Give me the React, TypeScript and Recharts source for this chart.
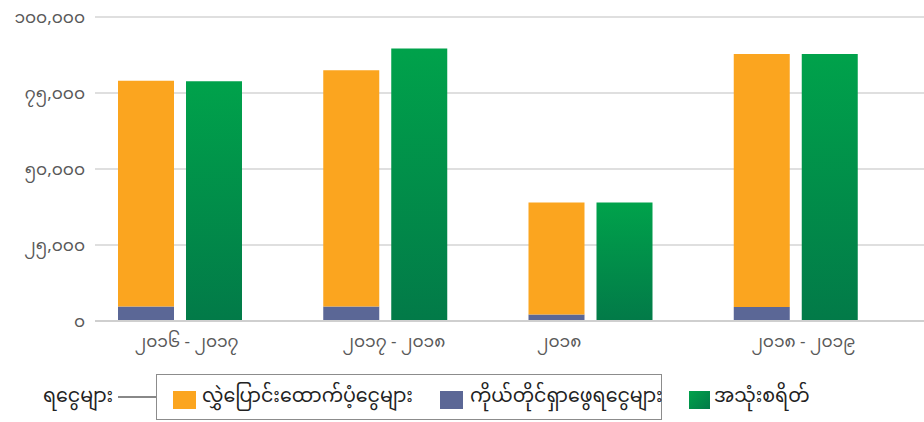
import { BarChart, Bar, XAxis, YAxis, CartesianGrid } from "recharts";

const periods = ["၂၀၁၆ - ၂၀၁၇", "၂၀၁၇ - ၂၀၁၈", "၂၀၁၈", "၂၀၁၈ - ၂၀၁၉"];
const selfEarned = [4800, 4800, 2100, 4600];
const transfers = [74200, 77700, 36900, 83200];
const spending = [78900, 89600, 39000, 87800];
const yTicks = [0, 25000, 50000, 75000, 100000];

const seriesNames = ["လွှဲပြောင်းထောက်ပံ့ငွေများ", "ကိုယ်တိုင်ရှာဖွေရငွေများ", "အသုံးစရိတ်"];
const legendTitle = "ရငွေများ";

const data = periods.map((p, i) => ({
  period: p,
  self: selfEarned[i],
  transfer: transfers[i],
  spend: spending[i],
}));

const MY_DIGITS = "၀၁၂၃၄၅၆၇၈၉";
const toMyanmar = (n: number) =>
  n.toLocaleString("en-US").replace(/[0-9]/g, (d) => MY_DIGITS[Number(d)]);

const FONT = "'Noto Sans Myanmar', 'Padauk', 'Myanmar Text', 'Noto Sans', sans-serif";
const labelNudge = [7, 9, -31, 8];

const XTick = (props: any) => {
  const { x, y, payload, index } = props;
  return (
    <text x={x + (labelNudge[index] || 0)} y={y} dy={18} textAnchor="middle" fill="#595959" fontSize={17} fontFamily={FONT}>
      {payload.value}
    </text>
  );
};

const labelStyle = { position: "absolute" as const, top: 11, lineHeight: "26px", whiteSpace: "nowrap" as const };

export default function App() {
  return (
    <div style={{ position: "relative", width: 924, height: 422, background: "#fff", fontFamily: FONT }}>
      <style>{`body{margin:0}`}</style>
      <BarChart
        width={924}
        height={372}
        data={data}
        margin={{ top: 17, right: 0, left: 0, bottom: 21 }}
        barGap={12}
        barSize={56}
      >
        <defs>
          <linearGradient id="greenGrad" x1="0" y1="0" x2="0" y2="1">
            <stop offset="0%" stopColor="#00a24b" />
            <stop offset="100%" stopColor="#027a48" />
          </linearGradient>
        </defs>
        <CartesianGrid vertical={false} stroke="#d4d4d4" strokeWidth={1.5} />
        <XAxis
          dataKey="period"
          height={30}
          tickLine={false}
          axisLine={{ stroke: "#cfcfcf", strokeWidth: 2 }}
          padding={{ left: -18, right: 26 }}
          tick={<XTick />}
          interval={0}
        />
        <YAxis
          width={95}
          domain={[0, 100000]}
          ticks={yTicks}
          tickLine={false}
          axisLine={false}
          tickMargin={4}
          tickFormatter={toMyanmar}
          tick={{ fill: "#595959", fontSize: 17, fontFamily: FONT }}
        />
        <Bar dataKey="self" stackId="a" fill="#5b6796" isAnimationActive={false} />
        <Bar dataKey="transfer" stackId="a" fill="#fba51f" isAnimationActive={false} />
        <Bar dataKey="spend" fill="url(#greenGrad)" isAnimationActive={false} />
      </BarChart>

      <div style={{ position: "absolute", top: 374, left: 0, width: 924, height: 47, fontSize: 19, color: "#222" }}>
        <span style={{ ...labelStyle, left: 43 }}>{legendTitle}</span>
        <div style={{ position: "absolute", left: 118, top: 22, width: 38, height: 2, background: "#888" }} />
        <div
          style={{
            position: "absolute",
            left: 156,
            top: 0,
            width: 506,
            height: 46,
            border: "1.5px solid #8c8c8c",
            boxSizing: "border-box",
          }}
        />
        <div style={{ position: "absolute", left: 173, top: 17, width: 23, height: 18, background: "#fba51f" }} />
        <span style={{ ...labelStyle, left: 202 }}>{seriesNames[0]}</span>
        <div style={{ position: "absolute", left: 440, top: 17, width: 23, height: 18, background: "#5b6796" }} />
        <span style={{ ...labelStyle, left: 470 }}>{seriesNames[1]}</span>
        <div style={{ position: "absolute", left: 689, top: 17, width: 21, height: 18, background: "linear-gradient(135deg, #00a24b, #027a48)" }} />
        <span style={{ ...labelStyle, left: 714 }}>{seriesNames[2]}</span>
      </div>
    </div>
  );
}
